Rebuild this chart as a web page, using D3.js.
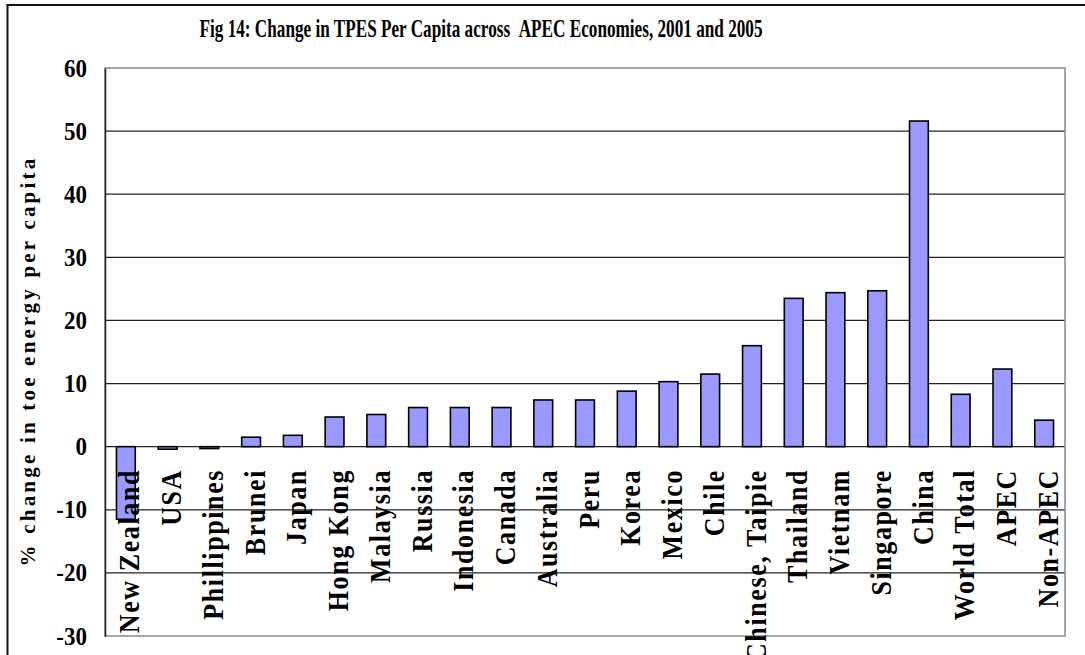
<!DOCTYPE html>
<html>
<head>
<meta charset="utf-8">
<script src="https://cdn.jsdelivr.net/npm/d3@7"></script>
<style>
  body { margin: 0; background: #fff; }
  text { font-family: "Liberation Serif", "Times New Roman", serif; font-weight: bold; fill: #000; }
</style>
</head>
<body>
<div id="chart"></div>
<script>
let categories = ["New Zealand", "USA", "Phillippines", "Brunei", "Japan", "Hong Kong", "Malaysia",
    "Russia", "Indonesia", "Canada", "Australia", "Peru", "Korea", "Mexico", "Chile",
    "Chinese, Taipie", "Thailand", "Vietnam", "Singapore", "China", "World Total", "APEC", "Non-APEC"];
let values = [-11.5, -0.4, -0.3, 1.5, 1.8, 4.7, 5.1, 6.2, 6.2, 6.2, 7.4, 7.4, 8.8, 10.3, 11.5,
    16.0, 23.5, 24.4, 24.7, 51.6, 8.3, 12.3, 4.2];
let yTicks = [-30, -20, -10, 0, 10, 20, 30, 40, 50, 60];
let title = "Fig 14: Change in TPES Per Capita across\u00a0\u00a0APEC Economies, 2001 and 2005";
let yTitle = "% change in toe energy per capita";

let dim = { "width": 1085, "height": 655 };
let plot = { left: 105, right: 1065, top: 68, bottom: 636 };

let svg = d3.select("#chart")
            .append("svg")
            .attr("width", dim.width)
            .attr("height", dim.height);

// outer chart frame (right and bottom run off the picture)
svg.append("path")
   .attr("d", `M7.5,${dim.height} V5 H${dim.width}`)
   .attr("fill", "none")
   .attr("stroke", "#111")
   .attr("stroke-width", 2);

let scaleX = d3.scaleBand()
               .domain(categories)
               .range([plot.left, plot.right])
               .paddingInner(0.55)
               .paddingOuter(0.275);

let scaleY = d3.scaleLinear()
               .domain([-30, 60])
               .range([plot.bottom, plot.top]);

// gridlines
svg.append("g")
   .selectAll("line")
   .data(yTicks.filter(d => d > -30 && d < 60))
   .join("line")
   .attr("x1", plot.left)
   .attr("x2", plot.right)
   .attr("y1", d => scaleY(d))
   .attr("y2", d => scaleY(d))
   .attr("stroke", "#222")
   .attr("stroke-width", 1.3);

// plot border
svg.append("rect")
   .attr("x", plot.left)
   .attr("y", plot.top)
   .attr("width", plot.right - plot.left)
   .attr("height", plot.bottom - plot.top)
   .attr("fill", "none")
   .attr("stroke", "#888")
   .attr("stroke-width", 1.5);

// y axis
let axisY = svg.append("g")
   .attr("transform", `translate(${plot.left}, 0)`)
   .call(d3.axisLeft(scaleY).tickValues(yTicks).tickFormat(d => String(d)).tickSize(0).tickPadding(18));
axisY.select(".domain").attr("stroke", "#222").attr("stroke-width", 1.5);
axisY.selectAll("text")
     .attr("font-size", "25px")
     .attr("font-family", "Liberation Serif, serif")
     .attr("font-weight", "bold")
     .attr("fill", "#000")
     .attr("textLength", function() { return this.getComputedTextLength() * 0.92; })
     .attr("lengthAdjust", "spacingAndGlyphs");

// bars
svg.append("g")
   .selectAll("rect")
   .data(values)
   .join("rect")
   .attr("x", (d, i) => scaleX(categories[i]))
   .attr("width", scaleX.bandwidth())
   .attr("y", d => scaleY(Math.max(0, d)))
   .attr("height", d => Math.abs(scaleY(d) - scaleY(0)))
   .attr("fill", "#9999ff")
   .attr("stroke", "#000")
   .attr("stroke-width", 1.6);

// category labels, rotated
svg.append("g")
   .selectAll("text")
   .data(categories)
   .join("text")
   .attr("transform", d => `translate(${scaleX(d) + scaleX.bandwidth() / 2 + 4}, 469) rotate(-90) scale(1, 1.12)`)
   .attr("text-anchor", "end")
   .attr("dy", "0.33em")
   .attr("font-size", "26px")
   .attr("letter-spacing", "1.6px")
   .text(d => d);

// title
svg.append("text")
   .attr("x", 481)
   .attr("y", 37)
   .attr("text-anchor", "middle")
   .attr("font-size", "26px")
   .attr("textLength", 563)
   .attr("lengthAdjust", "spacingAndGlyphs")
   .text(title);

// y axis title
svg.append("text")
   .attr("transform", "translate(28, 361) rotate(-90)")
   .attr("text-anchor", "middle")
   .attr("dy", "0.33em")
   .attr("font-size", "21px")
   .attr("letter-spacing", "3.2px")
   .text(yTitle);
</script>
</body>
</html>
